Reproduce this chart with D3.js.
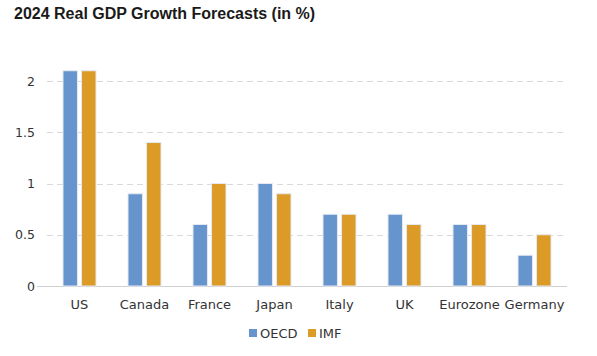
<!DOCTYPE html>
<html><head><meta charset="utf-8">
<script src="https://cdn.jsdelivr.net/npm/d3@7"></script>
<style>body{margin:0;background:#fff;} svg{display:block;font-family:"DejaVu Sans",sans-serif;}</style>
</head><body>
<svg id="c" width="597" height="356"></svg>
<script>
const categories = ["US","Canada","France","Japan","Italy","UK","Eurozone","Germany"];
const seriesNames = ["OECD","IMF"];
const oecd = [2.1,0.9,0.6,1.0,0.7,0.7,0.6,0.3];
const imf = [2.1,1.4,1.0,0.9,0.7,0.6,0.6,0.5];
const yTicks = [0,0.5,1,1.5,2];
const yTickLabels = ["0","0.5","1","1.5","2"];
const colors = ["#6694cc","#dc9a26"];

const svg = d3.select("#c");
const mLeft=47, mRight=567, mBottom=286;
const x = d3.scaleBand().domain(categories).range([mLeft,mRight]).paddingInner(0).paddingOuter(0);
const y = d3.scaleLinear().domain([0,2.2]).range([mBottom, mBottom-2.2*102.5]);

svg.append("text").attr("x",14).attr("y",19).attr("font-size",16).attr("font-weight","bold").attr("fill","#1a1a1a")
  .attr("font-family","'Liberation Sans',Arial,sans-serif")
  .text("2024 Real GDP Growth Forecasts (in %)");

svg.append("g").selectAll("line").data(yTicks.filter(d=>d>0)).join("line")
  .attr("x1",mLeft).attr("x2",mRight).attr("y1",d=>Math.round(y(d))+0.5).attr("y2",d=>Math.round(y(d))+0.5)
  .attr("stroke","#d9d9d9").attr("stroke-dasharray","6,4");

svg.append("line").attr("x1",37).attr("x2",mRight).attr("y1",Math.round(y(0))+0.5).attr("y2",Math.round(y(0))+0.5)
  .attr("stroke","#d0d0d0");

svg.append("g").selectAll("text").data(yTicks).join("text")
  .attr("x",35).attr("y",d=>y(d)+4.5).attr("text-anchor","end").attr("font-size",12.5).attr("fill","#333")
  .text((d,i)=>yTickLabels[i]);

const inner = d3.scaleBand().domain(seriesNames).range([0,33]).paddingInner(0.22);
const data = categories.map((c,i)=>({c, vals:[oecd[i],imf[i]]}));
const g = svg.append("g");
data.forEach(d=>{
  const cx = x(d.c)+x.bandwidth()/2;
  seriesNames.forEach((s,j)=>{
    const v=d.vals[j];
    g.append("rect").attr("x",cx-16.5+inner(s)).attr("width",inner.bandwidth())
      .attr("y",y(v)).attr("height",y(0)-y(v))
      .attr("fill",colors[j]).attr("stroke","#e6e9f2").attr("stroke-width",1);
  });
});

svg.append("g").selectAll("text").data(categories).join("text")
  .attr("x",d=>x(d)+x.bandwidth()/2).attr("y",309).attr("text-anchor","middle").attr("font-size",13).attr("fill","#333")
  .text(d=>d);

const legX=[249,308];
seriesNames.forEach((s,j)=>{
  svg.append("rect").attr("x",legX[j]).attr("y",329).attr("width",8).attr("height",8).attr("fill",colors[j]);
  svg.append("text").attr("x",legX[j]+11).attr("y",338).attr("font-size",13).attr("fill","#333").text(s);
});
</script>
</body></html>
